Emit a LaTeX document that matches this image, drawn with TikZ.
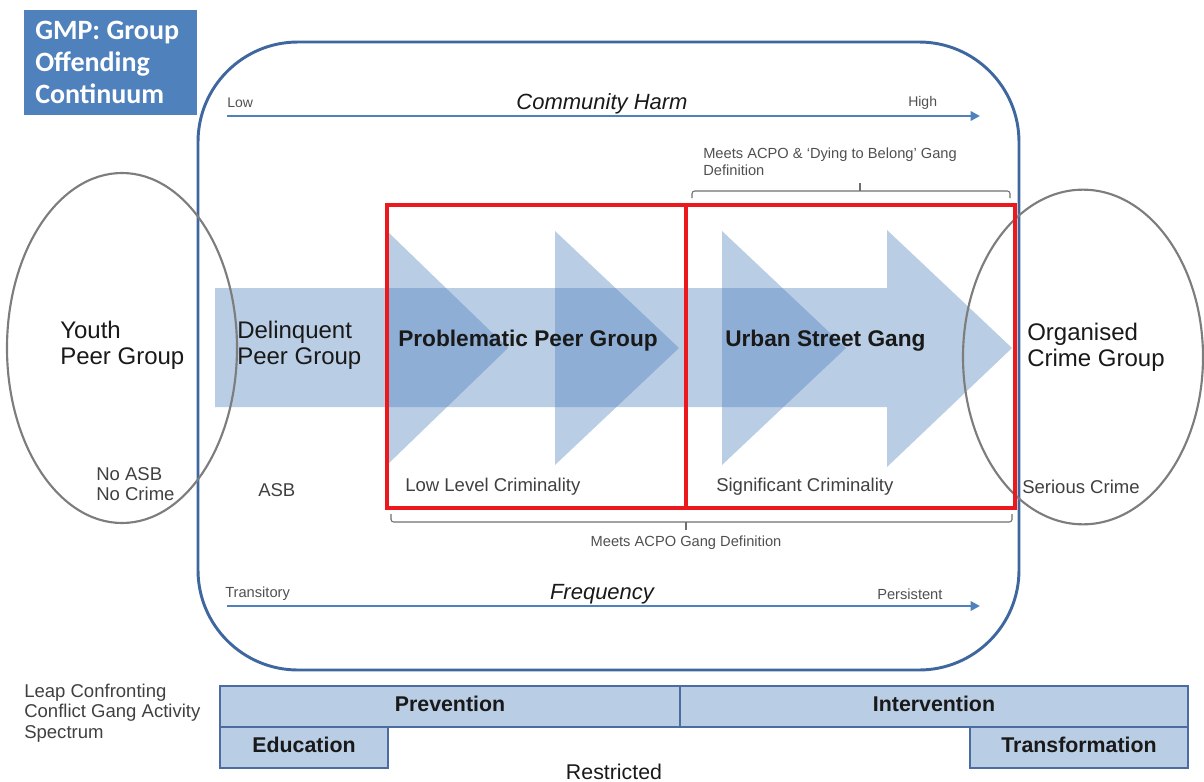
\documentclass[tikz,border=0pt]{standalone}
\usepackage{fontspec}
\setmainfont{Liberation Sans}
\newfontfamily\titlefont{Carlito}
\usetikzlibrary{shapes.geometric,arrows.meta}
\definecolor{gmpblue}{RGB}{79,129,189}
\definecolor{frameblue}{RGB}{62,103,160}
\definecolor{boxfill}{RGB}{185,205,229}
\definecolor{boxline}{RGB}{74,108,160}
\definecolor{txtdark}{RGB}{25,25,25}
\definecolor{txtgray}{RGB}{64,64,64}
\definecolor{tinygray}{RGB}{80,80,80}
\definecolor{ellgray}{RGB}{125,125,125}
\definecolor{bracegray}{RGB}{110,110,110}
\definecolor{redbox}{RGB}{235,25,30}
\newcommand\fsz[2]{\fontsize{#1}{#2}\selectfont}
\begin{document}
\begin{tikzpicture}[x=0.75pt,y=-0.75pt,
  mainlabel/.style={anchor=west,inner sep=0pt,align=left,text=txtdark,font=\fsz{18pt}{19.5pt}},
  boldlabel/.style={anchor=west,inner sep=0pt,text=txtdark,font=\fsz{17pt}{19pt}\bfseries},
  smalllabel/.style={anchor=west,inner sep=0pt,align=left,text=txtgray,font=\fsz{13.9pt}{14.5pt}},
  tinylabel/.style={inner sep=0pt,align=left,text=tinygray,font=\fsz{11pt}{12.75pt}},
  axislabel/.style={inner sep=0pt,text=txtdark,font=\fsz{16.5pt}{18pt}\itshape},
  scalearrow/.style={draw=gmpblue,line width=2pt,-{Triangle[length=7pt,width=7pt]}},
  chev/.style={fill=gmpblue,fill opacity=0.4},
  ring/.style={ellipse,draw=ellgray,line width=1.6pt,inner sep=0pt},
  bracket/.style={draw=bracegray,line width=0.8pt,rounded corners=2pt},
  redframe/.style={draw=redbox,line width=2.6pt},
  spectrumbox/.style={draw=boxline,fill=boxfill,line width=1.5pt,inner sep=0pt,
     minimum height=30.75pt,text depth=4.5pt,text=txtdark,font=\fsz{16pt}{18pt}\bfseries},
]
\useasboundingbox (0,0) rectangle (1204,782);

% outer rounded frame
\node[draw=frameblue,line width=2.2pt,rounded corners=75pt,
      minimum width=615.75pt,minimum height=471pt,inner sep=0pt] (frame) at (608.5,356) {};

% title box
\node[fill=gmpblue,anchor=north west,inner sep=0pt,
      minimum width=129.75pt,minimum height=78.75pt] (title) at (24,10) {};
\node[text=white,anchor=west,inner sep=0pt,
      font=\titlefont\bfseries\fsz{21pt}{24pt}] (titletext) at (35,65)
      {\begin{tabular}{@{}l@{}}GMP: Group\\Offending\\Continuum\end{tabular}};

% big arrow band
\fill[chev] (215,288) -- (887,288) -- (887,230) -- (1012,348) -- (887,467)
            -- (887,407) -- (215,407) -- cycle;
% chevrons
\fill[chev] (388,232) -- (508,348) -- (388,464) -- cycle;
\fill[chev] (555,231) -- (679,348) -- (555,465) -- cycle;
\fill[chev] (722,231) -- (846,348) -- (722,465) -- cycle;

% ellipses
\node[ring,minimum width=172.5pt,minimum height=262.5pt] (youthring) at (122,348) {};
\node[ring,minimum width=180pt,minimum height=251pt] (ocgring) at (1083,357) {};

% red boxes
\draw[redframe] (387,205) rectangle (1015,508);
\draw[redframe] (686,205) -- (686,508);

% group labels
\node[mainlabel] (youth) at (60,345) {Youth\\Peer Group};
\node[mainlabel] (delinq) at (237,345) {Delinquent\\Peer Group};
\node[boldlabel] (problem) at (398,341) {Problematic Peer Group};
\node[boldlabel] (urban) at (725,341) {Urban Street Gang};
\node[mainlabel] (ocg) at (1027,347) {Organised\\Crime Group};

% criminality labels
\node[smalllabel] (noasb) at (96,484) {No ASB\\No Crime};
\node[smalllabel] (asb) at (258,490) {ASB};
\node[smalllabel] (lowlevel) at (405,487) {Low Level Criminality};
\node[smalllabel] (signif) at (716,487) {Significant Criminality};
\node[smalllabel] (serious) at (1022,487) {Serious Crime};

% definitions and brackets
\node[tinylabel,anchor=west] (dtb) at (703,162) {Meets ACPO \& `Dying to Belong' Gang\\Definition};
\draw[bracket] (692,198) -- (692,191) -- (1010,191) -- (1010,198);
\draw[bracket] (860,191) -- (860,183);
\draw[bracket] (391,514) -- (391,522) -- (1012,522) -- (1012,514);
\draw[bracket] (686,522) -- (686,530);
\node[tinylabel,anchor=center] (acpo) at (686,543) {Meets ACPO Gang Definition};

% community harm scale
\node[tinylabel,anchor=west,font=\fsz{10.5pt}{12pt}] (low) at (227,103) {Low};
\node[axislabel] (harm) at (602,104) {Community Harm};
\node[tinylabel,anchor=west,font=\fsz{10.5pt}{12pt}] (high) at (908,103) {High};
\coordinate (harmL) at (227,116);
\coordinate (harmR) at (980,116);
\draw[scalearrow] (harmL) -- (harmR);

% frequency scale
\node[tinylabel,anchor=west] (trans) at (225,594) {Transitory};
\node[axislabel] (freq) at (602,594) {Frequency};
\node[tinylabel,anchor=west] (persist) at (877,594) {Persistent};
\coordinate (freqL) at (227,606);
\coordinate (freqR) at (980,606);
\draw[scalearrow] (freqL) -- (freqR);

% spectrum
\node[smalllabel,font=\fsz{13.9pt}{15.4pt}] (leap) at (24,713) {Leap Confronting\\Conflict Gang Activity\\Spectrum};
\node[spectrumbox,minimum width=345pt] (prev) at (450,706.5) {Prevention};
\node[spectrumbox,minimum width=381pt] (interv) at (934,706.5) {Intervention};
\node[spectrumbox,minimum width=126pt] (educ) at (304,747.5) {Education};
\node[spectrumbox,minimum width=163.5pt] (transf) at (1079,747.5) {Transformation};
\node[inner sep=0pt,text=txtdark,font=\fsz{16pt}{18pt}] (restr) at (614,772) {Restricted};
\end{tikzpicture}
\end{document}
